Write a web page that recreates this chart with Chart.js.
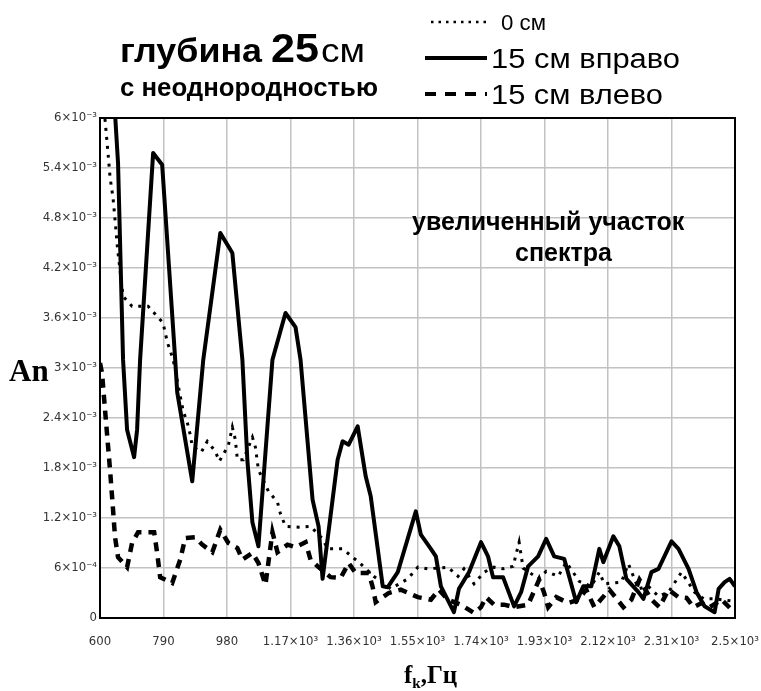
<!DOCTYPE html>
<html>
<head>
<meta charset="utf-8">
<script src="https://cdn.jsdelivr.net/npm/chart.js@4.4.1/dist/chart.umd.min.js"></script>
<style>
  html, body { margin: 0; padding: 0; background: #fff; }
  #wrap { width: 761px; height: 691px; }
</style>
</head>
<body>
<div id="wrap"><canvas id="spectrum" width="761" height="691"></canvas></div>
<script>
// Axis ticks and their printed labels
const xTickValues = [600, 790, 980, 1170, 1360, 1550, 1740, 1930, 2120, 2310, 2500];
const xTickLabels = ['600', '790', '980', '1.17×10³', '1.36×10³', '1.55×10³', '1.74×10³', '1.93×10³', '2.12×10³', '2.31×10³', '2.5×10³'];
const yTickValues = [0, 6e-4, 1.2e-3, 1.8e-3, 2.4e-3, 3e-3, 3.6e-3, 4.2e-3, 4.8e-3, 5.4e-3, 6e-3];
const yTickLabels = ['0', '6×10⁻⁴', '1.2×10⁻³', '1.8×10⁻³', '2.4×10⁻³', '3×10⁻³', '3.6×10⁻³', '4.2×10⁻³', '4.8×10⁻³', '5.4×10⁻³', '6×10⁻³'];

// Series: 0 см (dotted)
const freqCenter = [603,615,624,630,639,645,651,654,669,696,744,771,789,795,804,819,849,861,870,876,903,921,945,957,984,996,1005,1011,1029,1056,1065,1074,1104,1131,1140,1155,1194,1230,1266,1281,1326,1380,1419,1470,1521,1551,1581,1641,1671,1689,1719,1749,1779,1806,1836,1854,1866,1881,1911,1935,1971,1995,2034,2070,2094,2109,2160,2181,2211,2241,2271,2301,2340,2379,2406,2440,2500];
const ampCenter = [6.2e-3,5.98e-3,5.58e-3,5.29e-3,5.04e-3,4.78e-3,4.5e-3,4.38e-3,3.86e-3,3.74e-3,3.74e-3,3.62e-3,3.54e-3,3.42e-3,3.28e-3,3.1e-3,2.48e-3,2.35e-3,2.2e-3,2.06e-3,1.99e-3,2.12e-3,2e-3,1.88e-3,2.07e-3,2.29e-3,2.14e-3,1.9e-3,1.9e-3,2.17e-3,2.05e-3,1.78e-3,1.52e-3,1.39e-3,1.25e-3,1.1e-3,1.09e-3,1.1e-3,0.95e-3,0.83e-3,0.83e-3,0.65e-3,0.5e-3,0.35e-3,0.47e-3,0.61e-3,0.59e-3,0.61e-3,0.5e-3,0.59e-3,0.41e-3,0.55e-3,0.61e-3,0.59e-3,0.62e-3,0.91e-3,0.6e-3,0.56e-3,0.47e-3,0.56e-3,0.5e-3,0.67e-3,0.44e-3,0.38e-3,0.55e-3,0.41e-3,0.43e-3,0.65e-3,0.35e-3,0.38e-3,0.26e-3,0.31e-3,0.55e-3,0.31e-3,0.23e-3,0.23e-3,0.2e-3];

// Series: 15 см вправо (solid)
const freqRight = [639,645,654,669,681,702,711,720,759,786,825,831,876,909,960,996,1026,1041,1056,1074,1116,1155,1185,1200,1236,1254,1266,1311,1326,1344,1371,1395,1410,1446,1461,1491,1545,1560,1590,1605,1620,1659,1674,1704,1740,1761,1776,1806,1839,1860,1881,1911,1935,1959,1989,2025,2046,2070,2094,2106,2136,2154,2175,2211,2226,2250,2271,2310,2331,2361,2385,2409,2439,2451,2469,2484,2500];
const ampRight = [6.4e-3,6.05e-3,5.46e-3,3.1e-3,2.26e-3,1.93e-3,2.26e-3,3.1e-3,5.58e-3,5.44e-3,3.1e-3,2.71e-3,1.64e-3,3.1e-3,4.62e-3,4.38e-3,3.1e-3,1.89e-3,1.15e-3,0.86e-3,3.1e-3,3.66e-3,3.49e-3,3.1e-3,1.42e-3,1.1e-3,0.47e-3,1.9e-3,2.12e-3,2.08e-3,2.3e-3,1.7e-3,1.46e-3,0.38e-3,0.37e-3,0.55e-3,1.28e-3,1e-3,0.83e-3,0.74e-3,0.38e-3,0.07e-3,0.35e-3,0.55e-3,0.91e-3,0.74e-3,0.49e-3,0.49e-3,0.14e-3,0.31e-3,0.62e-3,0.74e-3,0.95e-3,0.74e-3,0.71e-3,0.19e-3,0.38e-3,0.38e-3,0.83e-3,0.67e-3,0.98e-3,0.86e-3,0.47e-3,0.31e-3,0.23e-3,0.55e-3,0.59e-3,0.92e-3,0.83e-3,0.59e-3,0.31e-3,0.14e-3,0.07e-3,0.35e-3,0.43e-3,0.47e-3,0.38e-3];

// Series: 15 см влево (dashed)
const freqLeft = [600,606,615,630,639,645,654,681,696,714,762,771,780,816,840,855,885,906,936,960,984,1011,1026,1056,1074,1095,1101,1116,1131,1161,1185,1215,1230,1254,1290,1320,1344,1365,1404,1416,1425,1464,1500,1551,1590,1614,1641,1680,1719,1740,1755,1779,1809,1839,1881,1914,1929,1941,1965,2001,2031,2055,2079,2124,2166,2190,2214,2250,2274,2301,2331,2355,2376,2400,2424,2460,2490,2500];
const ampLeft = [3.06e-3,2.94e-3,2.5e-3,1.78e-3,1.3e-3,0.97e-3,0.73e-3,0.61e-3,0.9e-3,1.03e-3,1.03e-3,0.78e-3,0.49e-3,0.42e-3,0.7e-3,0.96e-3,0.97e-3,0.88e-3,0.79e-3,1.06e-3,0.9e-3,0.84e-3,0.7e-3,0.78e-3,0.66e-3,0.4e-3,0.58e-3,1.03e-3,0.79e-3,0.88e-3,0.85e-3,0.91e-3,0.7e-3,0.61e-3,0.49e-3,0.48e-3,0.66e-3,0.54e-3,0.54e-3,0.37e-3,0.19e-3,0.3e-3,0.34e-3,0.25e-3,0.22e-3,0.34e-3,0.22e-3,0.16e-3,0.06e-3,0.13e-3,0.25e-3,0.16e-3,0.16e-3,0.13e-3,0.16e-3,0.46e-3,0.3e-3,0.13e-3,0.25e-3,0.18e-3,0.22e-3,0.34e-3,0.13e-3,0.34e-3,0.13e-3,0.22e-3,0.46e-3,0.22e-3,0.13e-3,0.34e-3,0.25e-3,0.24e-3,0.13e-3,0.18e-3,0.13e-3,0.22e-3,0.1e-3,0.12e-3];

const seriesNames = ['0 см', '15 см вправо', '15 см влево'];

function toPoints(xs, ys) {
  const n = Math.min(xs.length, ys.length);
  const pts = [];
  for (let i = 0; i < n; i++) pts.push({ x: xs[i], y: ys[i] });
  return pts;
}

const SANS = '"Liberation Sans", Arial, sans-serif';
const SERIF = '"Liberation Serif", "Times New Roman", serif';
const TICK_FONT = '"DejaVu Sans Condensed", "Liberation Sans Narrow", "Liberation Sans", sans-serif';

// Draw text squeezed/stretched horizontally to a given width
function fitText(ctx, text, x, y, width, font) {
  ctx.save();
  ctx.font = font;
  const w = ctx.measureText(text).width;
  ctx.translate(x, y);
  ctx.scale(width / w, 1);
  ctx.fillText(text, 0, 0);
  ctx.restore();
}

// Black frame round the plotting area
const framePlugin = {
  id: 'frame',
  beforeDatasetsDraw(chart) {
    const { ctx, chartArea: a } = chart;
    ctx.save();
    ctx.strokeStyle = '#000';
    ctx.lineWidth = 2;
    ctx.strokeRect(a.left, a.top, a.right - a.left, a.bottom - a.top);
    ctx.restore();
  }
};

// Heading, key, note and axis names
const textPlugin = {
  id: 'texts',
  afterDraw(chart) {
    const ctx = chart.ctx;
    ctx.save();
    ctx.fillStyle = '#000';
    ctx.textBaseline = 'alphabetic';
    ctx.textAlign = 'left';

    // heading
    fitText(ctx, 'глубина', 120, 62, 142, 'bold 34px ' + SANS);
    fitText(ctx, '25', 271, 62, 48, 'bold 41px ' + SANS);
    fitText(ctx, 'см', 321, 62, 44, '34px ' + SANS);
    fitText(ctx, 'с неоднородностью', 120, 96, 258, 'bold 25px ' + SANS);

    // key
    const ds = chart.data.datasets;
    const keyRows = [
      { y: 22, x0: 431, x1: 487, tx: 501, tw: 45, size: 22, dash: [2.5, 5], lw: 2.5 },
      { y: 58, x0: 425, x1: 487, tx: 491, tw: 189, size: 27, dash: [], lw: 4 },
      { y: 94, x0: 425, x1: 487, tx: 491, tw: 172, size: 27, dash: [11, 9], lw: 4 }
    ];
    keyRows.forEach((r, i) => {
      ctx.save();
      ctx.strokeStyle = ds[i].borderColor;
      ctx.lineWidth = r.lw;
      ctx.lineCap = 'butt';
      ctx.setLineDash(r.dash);
      ctx.beginPath();
      ctx.moveTo(r.x0, r.y);
      ctx.lineTo(r.x1, r.y);
      ctx.stroke();
      ctx.restore();
      fitText(ctx, ds[i].label, r.tx, r.y + Math.round(r.size * 0.36), r.tw, r.size + 'px ' + SANS);
    });

    // note inside the plot
    ctx.font = 'bold 25px ' + SANS;
    ctx.fillText('увеличенный участок', 412, 230);
    ctx.fillText('спектра', 515, 261);

    // axis names
    ctx.font = 'bold 31px ' + SERIF;
    ctx.fillText('An', 9, 381);

    let x = 404;
    const by = 683;
    ctx.font = 'bold 25px ' + SERIF;
    ctx.fillText('f', x, by);
    x += ctx.measureText('f').width;
    ctx.font = 'bold 15px ' + SERIF;
    ctx.fillText('k', x, by + 5);
    x += ctx.measureText('k').width;
    ctx.font = 'bold 25px ' + SERIF;
    ctx.fillText(',Гц', x, by);
    ctx.restore();
  }
};

const gridStyle = { color: '#c2c2c2', lineWidth: 1.5, drawTicks: false };
const tickStyle = { color: '#333', font: { family: TICK_FONT, size: 13 } };

new Chart(document.getElementById('spectrum'), {
  type: 'line',
  data: {
    datasets: [
      {
        label: seriesNames[0],
        data: toPoints(freqCenter, ampCenter),
        borderColor: '#000',
        borderWidth: 3,
        borderDash: [3, 6],
        borderCapStyle: 'butt',
        pointRadius: 0,
        tension: 0,
        fill: false,
        clip: 1
      },
      {
        label: seriesNames[1],
        data: toPoints(freqRight, ampRight),
        borderColor: '#000',
        borderWidth: 4,
        borderJoinStyle: 'round',
        pointRadius: 0,
        tension: 0,
        fill: false,
        clip: 1
      },
      {
        label: seriesNames[2],
        data: toPoints(freqLeft, ampLeft),
        borderColor: '#000',
        borderWidth: 4.5,
        borderDash: [9, 7],
        borderCapStyle: 'butt',
        pointRadius: 0,
        tension: 0,
        fill: false,
        clip: 1
      }
    ]
  },
  options: {
    responsive: false,
    animation: false,
    devicePixelRatio: 1,
    layout: { autoPadding: false, padding: { top: 118, right: 26, bottom: 33, left: 0 } },
    plugins: { legend: { display: false }, tooltip: { enabled: false } },
    scales: {
      x: {
        type: 'linear',
        min: 600,
        max: 2500,
        afterBuildTicks: s => { s.ticks = xTickValues.map(v => ({ value: v })); },
        afterFit: s => { s.height = 40; s.paddingLeft = 0; s.paddingRight = 0; },
        ticks: Object.assign({
          autoSkip: false,
          maxRotation: 0,
          padding: 16,
          callback: v => xTickLabels[xTickValues.indexOf(v)]
        }, tickStyle),
        grid: gridStyle,
        border: { display: true, color: '#000', width: 2 }
      },
      y: {
        type: 'linear',
        min: 0,
        max: 6e-3,
        afterBuildTicks: s => { s.ticks = yTickValues.map(v => ({ value: v })); },
        afterFit: s => { s.width = 100; s.paddingTop = 0; s.paddingBottom = 0; },
        ticks: Object.assign({
          autoSkip: false,
          padding: 3,
          callback: v => yTickLabels[yTickValues.indexOf(v)]
        }, tickStyle),
        grid: gridStyle,
        border: { display: true, color: '#000', width: 2 }
      }
    }
  },
  plugins: [framePlugin, textPlugin]
});
</script>
</body>
</html>
